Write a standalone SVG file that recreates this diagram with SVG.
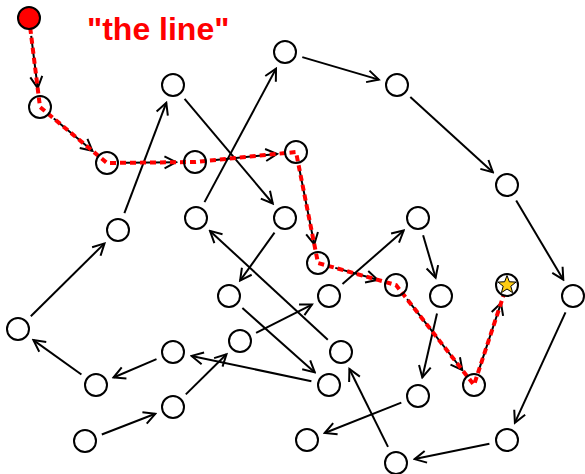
<svg xmlns="http://www.w3.org/2000/svg" width="585" height="474" viewBox="0 0 585 474">
  <style>
    .node { fill: none; stroke: #000; stroke-width: 2; }
    .edge { stroke: #000; stroke-width: 2; fill: none; marker-end: url(#arrow); }
    .route { stroke: #ff0000; stroke-width: 4; fill: none; stroke-dasharray: 6 4; }
    .title { font-family: "Liberation Sans", Arial, sans-serif; font-weight: bold; font-size: 32px; fill: #ff0000; }
  </style>
  <defs>
    <marker id="arrow" markerUnits="userSpaceOnUse" markerWidth="16" markerHeight="16" viewBox="-14 -8 16 16" refX="0" refY="0" orient="auto">
      <path d="M-11.5,-6 L0,0 L-11.5,6" fill="none" stroke="#000" stroke-width="2"/>
    </marker>
  </defs>
  <rect width="585" height="474" fill="#fff"/>

  <text class="title" x="87" y="40">"the line"</text>

  <g id="connectors">
    <!-- highlighted path -->
    <line class="edge" x1="31.2" y1="35.9" x2="37.7" y2="88.1"/>
    <line class="edge" x1="53.8" y1="118.5" x2="92.4" y2="150.8"/>
    <line class="edge" x1="125" y1="162.8" x2="176" y2="162.2"/>
    <line class="edge" x1="212.9" y1="160.2" x2="277.1" y2="153.9"/>
    <line class="edge" x1="299.5" y1="169.7" x2="314.3" y2="244.4"/>
    <line class="edge" x1="335.3" y1="267.9" x2="377.7" y2="279.8"/>
    <line class="edge" x1="407.1" y1="299.2" x2="462.3" y2="370.0"/>
    <line class="edge" x1="479.6" y1="367.9" x2="501.0" y2="303.0"/>
    <!-- chain A -->
    <line class="edge" x1="101.8" y1="434.5" x2="155.3" y2="413.8"/>
    <line class="edge" x1="185.8" y1="394.4" x2="226.5" y2="354.3"/>
    <line class="edge" x1="256.1" y1="332.9" x2="312.0" y2="304.6"/>
    <line class="edge" x1="342.5" y1="284.1" x2="403.7" y2="230.5"/>
    <line class="edge" x1="423.1" y1="235.3" x2="435.6" y2="277.8"/>
    <line class="edge" x1="437.0" y1="313.5" x2="422.3" y2="377.5"/>
    <line class="edge" x1="401.3" y1="402.6" x2="324.7" y2="433.0"/>
    <!-- loop B -->
    <line class="edge" x1="302.3" y1="57.1" x2="378.8" y2="79.6"/>
    <line class="edge" x1="410.3" y1="97.1" x2="492.9" y2="172.2"/>
    <line class="edge" x1="516.2" y1="200.5" x2="563.3" y2="279.7"/>
    <line class="edge" x1="565.5" y1="312.4" x2="514.9" y2="422.7"/>
    <line class="edge" x1="489.4" y1="443.7" x2="414.6" y2="459.1"/>
    <line class="edge" x1="388.0" y1="446.9" x2="349.4" y2="369.0"/>
    <line class="edge" x1="327.8" y1="339.8" x2="210.0" y2="230.9"/>
    <line class="edge" x1="204.5" y1="202.1" x2="276.0" y2="68.7"/>
    <!-- loop C -->
    <line class="edge" x1="184.6" y1="98.8" x2="272.8" y2="203.5"/>
    <line class="edge" x1="274.5" y1="232.6" x2="240.1" y2="280.6"/>
    <line class="edge" x1="242.4" y1="308.0" x2="314.8" y2="372.4"/>
    <line class="edge" x1="311.4" y1="381.3" x2="191.6" y2="355.9"/>
    <line class="edge" x1="156.5" y1="359.1" x2="113.5" y2="377.5"/>
    <line class="edge" x1="81.4" y1="374.5" x2="33.4" y2="340.1"/>
    <line class="edge" x1="30.8" y1="316.3" x2="104.5" y2="243.4"/>
    <line class="edge" x1="124.4" y1="213.2" x2="166.3" y2="102.8"/>
    <!-- dashed route overlay -->
    <polyline class="route" points="29,18 40,107 107,163 195,162 296,152 318,263 396,285 474,385 507,285"/>
  </g>

  <g id="start"><circle cx="29" cy="18" r="11" fill="#ff0000" stroke="#000" stroke-width="2"/></g>
  <g id="p1"><circle class="node" cx="40" cy="107" r="11"/></g>
  <g id="p2"><circle class="node" cx="107" cy="163" r="11"/></g>
  <g id="p3"><circle class="node" cx="195" cy="162" r="11"/></g>
  <g id="p4"><circle class="node" cx="296" cy="152" r="11"/></g>
  <g id="p5"><circle class="node" cx="318" cy="263" r="11"/></g>
  <g id="p6"><circle class="node" cx="396" cy="285" r="11"/></g>
  <g id="p7"><circle class="node" cx="474" cy="385" r="11"/></g>
  <g id="goal">
    <circle cx="507" cy="285" r="11" fill="#fff" stroke="#000" stroke-width="2"/>
    <polygon points="507,275.5 509.35,281.76 516.0,282.1 510.8,286.24 512.6,292.7 507,289 501.4,292.7 503.2,286.24 498.0,282.1 504.65,281.76" fill="#ffcc11" stroke="#000" stroke-width="1"/>
  </g>
  <g id="a1"><circle class="node" cx="85" cy="441" r="11"/></g>
  <g id="a2"><circle class="node" cx="173" cy="407" r="11"/></g>
  <g id="a3"><circle class="node" cx="240" cy="341" r="11"/></g>
  <g id="a4"><circle class="node" cx="329" cy="296" r="11"/></g>
  <g id="a5"><circle class="node" cx="418" cy="218" r="11"/></g>
  <g id="a6"><circle class="node" cx="441" cy="296" r="11"/></g>
  <g id="a7"><circle class="node" cx="418" cy="396" r="11"/></g>
  <g id="a8"><circle class="node" cx="307" cy="440" r="11"/></g>
  <g id="b1"><circle class="node" cx="285" cy="52" r="11"/></g>
  <g id="b2"><circle class="node" cx="397" cy="85" r="11"/></g>
  <g id="b3"><circle class="node" cx="507" cy="185" r="11"/></g>
  <g id="b4"><circle class="node" cx="573" cy="296" r="11"/></g>
  <g id="b5"><circle class="node" cx="507" cy="440" r="11"/></g>
  <g id="b6"><circle class="node" cx="396" cy="463" r="11"/></g>
  <g id="b7"><circle class="node" cx="341" cy="352" r="11"/></g>
  <g id="b8"><circle class="node" cx="196" cy="218" r="11"/></g>
  <g id="c1"><circle class="node" cx="173" cy="85" r="11"/></g>
  <g id="c2"><circle class="node" cx="285" cy="218" r="11"/></g>
  <g id="c3"><circle class="node" cx="229" cy="296" r="11"/></g>
  <g id="c4"><circle class="node" cx="329" cy="385" r="11"/></g>
  <g id="c5"><circle class="node" cx="173" cy="352" r="11"/></g>
  <g id="c6"><circle class="node" cx="96" cy="385" r="11"/></g>
  <g id="c7"><circle class="node" cx="18" cy="329" r="11"/></g>
  <g id="c8"><circle class="node" cx="118" cy="230" r="11"/></g>
</svg>
